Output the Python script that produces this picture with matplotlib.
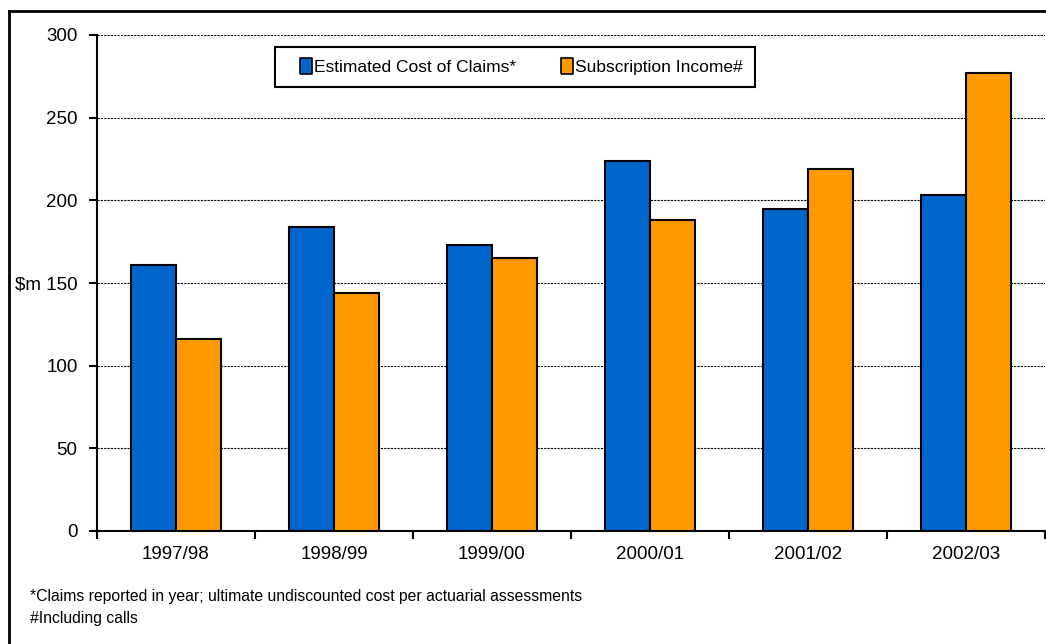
import matplotlib
matplotlib.use('Agg')
import matplotlib.pyplot as plt
import numpy as np
from matplotlib.lines import Line2D

plt.rcParams['font.family'] = ['Liberation Sans', 'DejaVu Sans']

years = ['1997/98', '1998/99', '1999/00', '2000/01', '2001/02', '2002/03']
cost_of_claims = [161, 184, 173, 224, 195, 203]
subscription_income = [116, 144, 165, 188, 219, 277]
y_ticks = [0, 50, 100, 150, 200, 250, 300]
y_labels = ['0', '50', '100', '$m 150', '200', '250', '300']
footnotes = ['*Claims reported in year; ultimate undiscounted cost per actuarial assessments',
             '#Including calls']

blue = '#0066CC'
orange = '#FF9900'

fig = plt.figure(figsize=(10.46, 6.44), dpi=100)
ax = fig.add_axes([0.0927, 0.1755, 0.9063, 0.7702])

x = np.arange(len(years))
w = 0.285
ax.bar(x - w / 2, cost_of_claims, w, color=blue, edgecolor='black', linewidth=1.5, zorder=3)
ax.bar(x + w / 2, subscription_income, w, color=orange, edgecolor='black', linewidth=1.5, zorder=3)

ax.set_xlim(-0.5, len(years) - 0.5)
ax.set_ylim(0, 300)
ax.set_yticks(y_ticks)
ax.set_yticklabels(y_labels, fontsize=13.5)
ax.set_xticks(x)
ax.set_xticklabels(years, fontsize=13.5)
ax.set_xticks(np.arange(len(years) + 1) - 0.5, minor=True)
ax.tick_params(axis='x', which='major', length=0, pad=11)
ax.tick_params(axis='x', which='minor', length=6, width=1.5, direction='out')
ax.tick_params(axis='y', length=6, width=1.5, direction='out', pad=8)

for y in y_ticks[1:]:
    ax.axhline(y, color='black', linestyle=(0, (2, 1)), linewidth=0.8, zorder=1)

for s in ['top', 'right']:
    ax.spines[s].set_visible(False)
for s in ['left', 'bottom']:
    ax.spines[s].set_linewidth(1.5)

# tall rectangle legend keys
rect = [(-0.75, -1), (0.75, -1), (0.75, 1), (-0.75, 1), (-0.75, -1)]
handles = [Line2D([], [], linestyle='none', marker=rect, markersize=11,
                  markerfacecolor=c, markeredgecolor='black', markeredgewidth=1.2)
           for c in (blue, orange)]
leg = ax.legend(handles, ['Estimated Cost of Claims*', 'Subscription Income#'],
                ncol=2, loc='upper left', bbox_to_anchor=(0.188, 0.975),
                fontsize=12.5, fancybox=False, framealpha=1, edgecolor='black',
                handlelength=2.14, handletextpad=-0.62,
                columnspacing=1.9, borderpad=0.7, borderaxespad=0)
leg.get_frame().set_linewidth(1.5)
leg.set_zorder(5)

# outer chart frame (cropped on right and bottom)
fig.add_artist(Line2D([9 / 1046, 9 / 1046], [0, 1 - 11 / 644], color='black', linewidth=2))
fig.add_artist(Line2D([9 / 1046, 1], [1 - 11 / 644, 1 - 11 / 644], color='black', linewidth=2))

fig.text(30 / 1046, 1 - 597 / 644, footnotes[0], fontsize=11.3, va='center')
fig.text(30 / 1046, 1 - 618 / 644, footnotes[1], fontsize=11.3, va='center')

fig.savefig('out.png', dpi=100)
